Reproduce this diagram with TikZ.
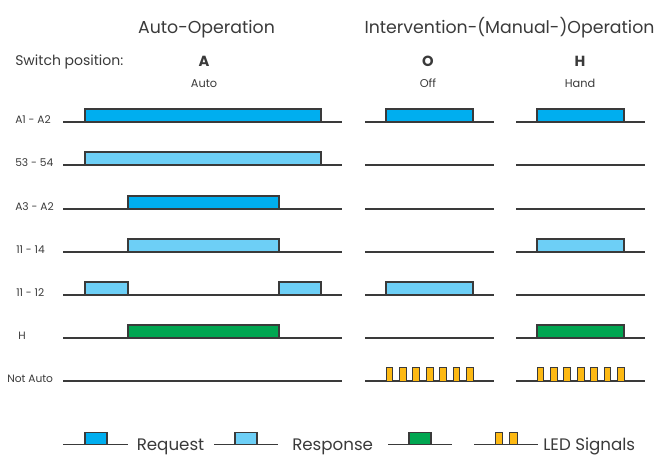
\documentclass[tikz,border=0pt]{standalone}
\usepackage{fontspec}
\setmainfont{Poppins}
\usepackage{tikz}
\definecolor{reqblue}{HTML}{00AEEF}
\definecolor{resblue}{HTML}{6DCFF6}
\definecolor{handgreen}{HTML}{00A651}
\definecolor{ledyellow}{HTML}{FDB913}
\definecolor{linegray}{HTML}{3A3A3A}
\tikzset{
  sig/.style={linegray, line width=0.9pt},
  request/.style={fill=reqblue, draw=linegray, line width=0.9pt},
  response/.style={fill=resblue, draw=linegray, line width=0.9pt},
  handon/.style={fill=handgreen, draw=linegray, line width=0.9pt},
  ledon/.style={fill=ledyellow, draw=linegray, line width=0.6pt},
  title/.style={anchor=base, inner sep=0pt, text=linegray, font=\fontsize{13}{15}\selectfont},
  rowlabel/.style={anchor=base west, inner sep=0pt, text=linegray, font=\fontsize{8}{10}\selectfont},
  letter/.style={anchor=base, inner sep=0pt, text=linegray, font=\fontsize{11}{13}\selectfont\bfseries},
  sublabel/.style={anchor=base, inner sep=0pt, text=linegray, font=\fontsize{8.5}{10}\selectfont},
  legendtext/.style={anchor=base west, inner sep=0pt, text=linegray, font=\fontsize{12.5}{15}\selectfont}
}

\begin{document}
\begin{tikzpicture}[x=0.75pt,y=-0.75pt]
    \useasboundingbox (0,0) rectangle (659,455);

    % Headings
    \node[title] (autoop) at (206.5,33) {Auto-Operation};
    \node[title] (manualop) at (509.5,33) {Intervention-(Manual-)Operation};
    \node[anchor=base west, inner sep=0pt, text=linegray, font=\fontsize{10.5}{12}\selectfont] (switchpos) at (15,65.5) {Switch position:};
    \node[letter] (posA) at (204,66.5) {A};
    \node[sublabel] (posAuto) at (204,87) {Auto};
    \node[letter] (posO) at (428,66.5) {O};
    \node[sublabel] (posOff) at (428,87) {Off};
    \node[letter] (posH) at (580,66.5) {H};
    \node[sublabel] (posHand) at (580,87) {Hand};

    % Row labels
    \node[rowlabel] (lblAone) at (15,123) {A1 - A2};
    \node[rowlabel] (lblFiftythree) at (15,166) {53 - 54};
    \node[rowlabel] (lblAthree) at (15,210) {A3 - A2};
    \node[rowlabel] (lblFourteen) at (16,253) {11 - 14};
    \node[rowlabel] (lblTwelve) at (16,296) {11 - 12};
    \node[rowlabel] (lblH) at (18,339) {H};
    \node[rowlabel] (lblNotAuto) at (7,382) {Not Auto};

    % Auto column
    \draw[sig] (63,122) -- (342,122);
    \filldraw[request] (85,122) rectangle (321,109); % A1 - A2
    \draw[sig] (63,165) -- (342,165);
    \filldraw[response] (85,165) rectangle (321,152); % 53 - 54
    \draw[sig] (63,209) -- (342,209);
    \filldraw[request] (128,209) rectangle (279,196); % A3 - A2
    \draw[sig] (63,252) -- (342,252);
    \filldraw[response] (128,252) rectangle (279,239); % 11 - 14
    \draw[sig] (63,295) -- (342,295);
    \filldraw[response] (85,295) rectangle (128,282); % 11 - 12 before
    \filldraw[response] (279,295) rectangle (321,282); % 11 - 12 after
    \draw[sig] (63,338) -- (342,338);
    \filldraw[handon] (128,338) rectangle (279,325); % H
    \draw[sig] (63,381) -- (342,381); % Not Auto

    % Off column
    \draw[sig] (365,122) -- (494,122);
    \filldraw[request] (386,122) rectangle (473,109); % A1 - A2
    \draw[sig] (365,165) -- (494,165);
    \draw[sig] (365,209) -- (494,209);
    \draw[sig] (365,252) -- (494,252);
    \draw[sig] (365,295) -- (494,295);
    \filldraw[response] (386,295) rectangle (473,282); % 11 - 12
    \draw[sig] (365,338) -- (494,338);
    \draw[sig] (365,381) -- (494,381);
    \filldraw[ledon] (386,381) rectangle (392.7,367); % LED blinking
    \filldraw[ledon] (399.4,381) rectangle (406.1,367);
    \filldraw[ledon] (412.8,381) rectangle (419.5,367);
    \filldraw[ledon] (426.2,381) rectangle (432.9,367);
    \filldraw[ledon] (439.6,381) rectangle (446.3,367);
    \filldraw[ledon] (453,381) rectangle (459.7,367);
    \filldraw[ledon] (466.4,381) rectangle (473.1,367);

    % Hand column
    \draw[sig] (516,122) -- (645,122);
    \filldraw[request] (537,122) rectangle (624,109); % A1 - A2
    \draw[sig] (516,165) -- (645,165);
    \draw[sig] (516,209) -- (645,209);
    \draw[sig] (516,252) -- (645,252);
    \filldraw[response] (537,252) rectangle (624,239); % 11 - 14
    \draw[sig] (516,295) -- (645,295);
    \draw[sig] (516,338) -- (645,338);
    \filldraw[handon] (537,338) rectangle (624,325); % H
    \draw[sig] (516,381) -- (645,381);
    \filldraw[ledon] (537,381) rectangle (543.7,367); % LED blinking
    \filldraw[ledon] (550.4,381) rectangle (557.1,367);
    \filldraw[ledon] (563.8,381) rectangle (570.5,367);
    \filldraw[ledon] (577.2,381) rectangle (583.9,367);
    \filldraw[ledon] (590.6,381) rectangle (597.3,367);
    \filldraw[ledon] (604,381) rectangle (610.7,367);
    \filldraw[ledon] (617.4,381) rectangle (624.1,367);

    % Legend
    \draw[sig] (63,444.5) -- (128,444.5);
    \filldraw[request] (85,444.5) rectangle (107,432.5);
    \node[legendtext] (legRequest) at (136.5,450.5) {Request};
    \draw[sig] (214,444.5) -- (278,444.5);
    \filldraw[response] (235,444.5) rectangle (257,432.5);
    \node[legendtext] (legResponse) at (292,450.5) {Response};
    \draw[sig] (388,444.5) -- (452,444.5);
    \filldraw[handon] (409,444.5) rectangle (431,432.5);
    \draw[sig] (474,444.5) -- (538,444.5);
    \filldraw[ledon] (495,444.5) rectangle (502,432.5);
    \filldraw[ledon] (509,444.5) rectangle (517,432.5);
    \node[legendtext] (legLed) at (543,450.5) {LED Signals};
\end{tikzpicture}
\end{document}
